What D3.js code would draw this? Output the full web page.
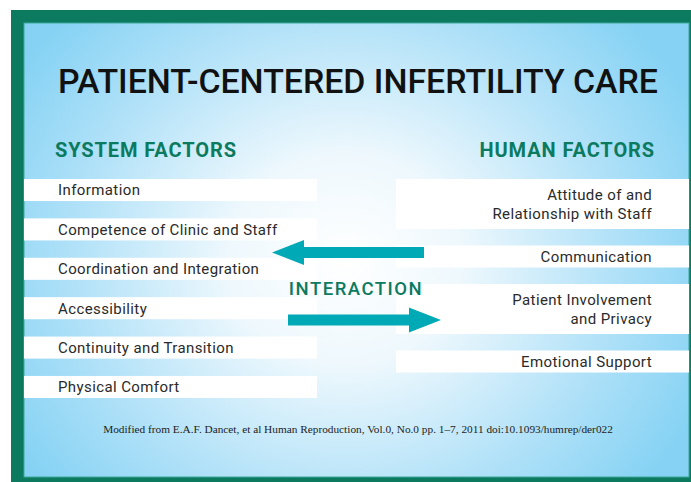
<!DOCTYPE html>
<html>
<head>
<meta charset="utf-8">
<script src="https://cdn.jsdelivr.net/npm/d3@7"></script>
<style>
  body { margin: 0; background: #fff; }
  .item { font-family: Roboto, "Open Sans", sans-serif; font-size: 15px; font-weight: 400; fill: #2a2a2a; letter-spacing: 0.4px; }
  .head { font-family: Roboto, sans-serif; font-size: 20px; font-weight: 700; fill: #0b7a5f; letter-spacing: 0.9px; }
</style>
</head>
<body>
<svg width="691" height="482"></svg>
<script>
var title = "PATIENT-CENTERED INFERTILITY CARE";
var systemFactors = ["Information", "Competence of Clinic and Staff", "Coordination and Integration",
                     "Accessibility", "Continuity and Transition", "Physical Comfort"];
var humanFactors = [["Attitude of and", "Relationship with Staff"], ["Communication"],
                    ["Patient Involvement", "and Privacy"], ["Emotional Support"]];
var middleLabel = "INTERACTION";
var source = "Modified from E.A.F. Dancet, et al Human Reproduction, Vol.0, No.0 pp. 1\u20137, 2011 doi:10.1093/humrep/der022";

var svg = d3.select("svg");
var defs = svg.append("defs");

var grad = defs.append("radialGradient")
    .attr("id", "bg")
    .attr("gradientUnits", "userSpaceOnUse")
    .attr("cx", 345).attr("cy", 260).attr("r", 390)
    .attr("gradientTransform", "translate(345,260) scale(1,0.9) translate(-345,-260)");
grad.append("stop").attr("offset", 0).attr("stop-color", "#ffffff");
grad.append("stop").attr("offset", 0.3).attr("stop-color", "#eef8fd");
grad.append("stop").attr("offset", 0.7).attr("stop-color", "#b0e1f8");
grad.append("stop").attr("offset", 1).attr("stop-color", "#85d2f4");

// frame
svg.append("rect").attr("x", 11).attr("y", 10).attr("width", 680).attr("height", 472).attr("fill", "#0b7a5f");
svg.append("rect").attr("x", 24).attr("y", 23).attr("width", 665).attr("height", 454)
    .attr("fill", "url(#bg)").attr("stroke", "#3fa79a").attr("stroke-width", 1);

// title
svg.append("text")
    .attr("x", 58).attr("y", 93)
    .attr("textLength", 600).attr("lengthAdjust", "spacingAndGlyphs")
    .style("font-family", "Roboto, sans-serif").style("font-size", "33px").style("font-weight", 500)
    .style("fill", "#111")
    .text(title);

// headers
svg.append("text").attr("class", "head").attr("x", 55).attr("y", 157).text("SYSTEM FACTORS");
svg.append("text").attr("class", "head").attr("x", 655).attr("y", 157)
    .attr("text-anchor", "end").text("HUMAN FACTORS");

// left column
var yLeft = d3.scaleBand().domain(systemFactors).range([179, 398]).paddingInner(0.44);

var left = svg.append("g").selectAll("g").data(systemFactors).enter().append("g");
left.append("rect")
    .attr("x", 24).attr("width", 293)
    .attr("y", function(d){ return yLeft(d); })
    .attr("height", yLeft.bandwidth())
    .attr("fill", "#fff");
left.append("text")
    .attr("class", "item")
    .attr("x", 58)
    .attr("y", function(d){ return yLeft(d) + yLeft.bandwidth() / 2; })
    .attr("dy", "0.36em")
    .text(function(d){ return d; });

// right column, boxes grow with number of lines
var lineH = 19.5, gap = 16.5, y0 = 179;
var rightBoxes = [];
humanFactors.forEach(function(lines) {
  var h = 22 + (lines.length - 1) * 28;
  rightBoxes.push({lines: lines, y: y0, h: h});
  y0 += h + gap;
});

var right = svg.append("g").selectAll("g").data(rightBoxes).enter().append("g");
right.append("rect")
    .attr("x", 396).attr("width", 293)
    .attr("y", function(d){ return d.y; })
    .attr("height", function(d){ return d.h; })
    .attr("fill", "#fff");
right.each(function(d) {
  var t = d3.select(this).append("text")
      .attr("class", "item")
      .attr("text-anchor", "end");
  var mid = d.y + d.h / 2 - (d.lines.length - 1) * lineH / 2;
  d.lines.forEach(function(line, i) {
    t.append("tspan")
      .attr("x", 652)
      .attr("y", mid + i * lineH)
      .attr("dy", "0.36em")
      .text(line);
  });
});

// arrows
function arrow(x1, x2, yc) {
  var dir = x2 > x1 ? 1 : -1;
  var headLen = 32, shaft = 5.5, head = 12.5;
  var xb = x2 - dir * headLen;
  return [[x1, yc - shaft], [xb, yc - shaft], [xb, yc - head], [x2, yc],
          [xb, yc + head], [xb, yc + shaft], [x1, yc + shaft]];
}
var arrowLine = d3.line();
svg.append("path").attr("d", arrowLine(arrow(424, 272, 252.5)) + "Z").attr("fill", "#00a9b6");
svg.append("path").attr("d", arrowLine(arrow(288, 441, 320)) + "Z").attr("fill", "#00a9b6");

svg.append("text")
    .attr("x", 356).attr("y", 295)
    .attr("text-anchor", "middle")
    .style("font-family", "Roboto, sans-serif").style("font-size", "18.5px").style("font-weight", 500)
    .style("letter-spacing", "1.5px")
    .style("fill", "#0b7a5f")
    .text(middleLabel);

// source note
svg.append("text")
    .attr("x", 358).attr("y", 433)
    .attr("text-anchor", "middle")
    .style("font-family", "'Liberation Serif', 'DejaVu Serif', serif").style("font-size", "11.3px")
    .style("fill", "#222")
    .text(source);
</script>
</body>
</html>
